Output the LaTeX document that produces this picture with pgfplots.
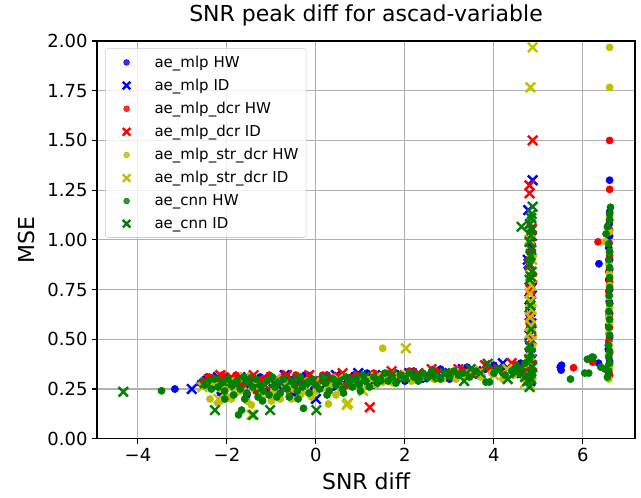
\documentclass[border=0pt]{standalone}
\usepackage{fontspec}
\setmainfont{DejaVu Sans}
\usepackage{pgfplots}
\pgfplotsset{compat=1.18}

\definecolor{cb}{rgb}{0,0,1}
\definecolor{cr}{rgb}{1,0,0}
\definecolor{cy}{rgb}{0.75,0.75,0}
\definecolor{cg}{rgb}{0,0.5,0}
\definecolor{gridgray}{RGB}{176,176,176}
\definecolor{legendedge}{RGB}{204,204,204}

\pgfplotsset{
  legmark/.style={legend image code/.code={
      \path (0cm,0cm) (1.03cm,0cm);
      \draw[##1, every mark/.append style={scale=0.8}] plot coordinates {(0.395cm,0cm)};}},
  hw/.style={only marks, mark=*, mark size=2.7pt, color=#1, legmark},
  id/.style={only marks, mark=x, mark size=5pt, line width=1.8pt, color=#1, legmark},
}

\begin{document}
\begin{tikzpicture}
\useasboundingbox (-72.75pt,-43.7pt) rectangle (408pt,329.05pt);
\begin{axis}[
    at={(0,0)}, anchor=south west,
    scale only axis,
    width=403.5pt, height=298.3pt,
    xmin=-4.92, xmax=7.17,
    ymin=0, ymax=2,
    xtick={-4,-2,0,2,4,6},
    xticklabels={−4,−2,0,2,4,6},
    ytick={0,0.25,0.5,0.75,1,1.25,1.5,1.75,2},
    yticklabels={0.00,0.25,0.50,0.75,1.00,1.25,1.50,1.75,2.00},
    tick label style={font=\fontsize{13.5}{16}\selectfont},
    tick pos=left,
    tick align=outside,
    major tick length=3.6pt,
    tick style={black, line width=0.8pt},
    axis line style={black, line width=0.8pt},
    grid=major,
    grid style={gridgray, line width=0.8pt},
    axis on top,
    title={SNR peak diff for ascad-variable},
    title style={at={(0.5,1)}, anchor=base, yshift=9pt, font=\fontsize{16.5}{19}\selectfont},
    xlabel={SNR diff},
    xlabel style={at={(axis description cs:0.5,0)}, anchor=base, yshift=-38pt, font=\fontsize{16.5}{19}\selectfont},
    ylabel={MSE},
    ylabel style={at={(axis description cs:-0.1165,0.5)}, anchor=base, font=\fontsize{16.5}{19}\selectfont},
    legend style={at={(0.015,0.982)}, anchor=north west, draw=legendedge, rounded corners=2pt,
      fill=white, fill opacity=0.8, text opacity=1, font=\fontsize{11.25}{13}\selectfont,
      row sep=3.3pt, inner xsep=3.8pt, inner ysep=3.5pt},
    legend cell align=left,
]

% ae_mlp HW
\addplot[hw=cb] coordinates {
(-3.17,0.25) (-2.6,0.28) (-2.45,0.31) (-2.3,0.27) (-2.15,0.23) (-2.0,0.31) (-1.85,0.26) (-1.7,0.3)
(-1.55,0.22) (-1.4,0.29) (-1.25,0.31) (-1.1,0.24) (-0.95,0.3) (-0.8,0.27) (-0.65,0.31) (-0.5,0.23)
(-0.35,0.29) (-0.2,0.32) (-0.05,0.25) (0.1,0.3) (0.25,0.32) (0.4,0.26) (0.55,0.31) (0.7,0.28)
(0.85,0.32) (1.0,0.29) (1.15,0.33) (1.3,0.27) (1.45,0.32) (1.6,0.3) (1.8,0.33) (2.0,0.29)
(2.2,0.34) (2.4,0.3) (2.6,0.33) (2.8,0.35) (3.0,0.3) (3.2,0.34) (3.4,0.36) (3.6,0.32)
(3.8,0.35) (4.0,0.37) (4.2,0.34) (4.4,0.36) (4.6,0.38) (5.49,0.36) (5.51,0.345) (5.52,0.37)
(6.35,0.38) (6.36,0.88)
(6.58,0.33) (6.6,0.39) (6.57,0.45) (6.6,0.51) (6.58,0.57) (6.6,0.63) (6.59,0.69) (6.6,0.75)
(6.58,0.8) (6.6,0.85) (6.6,0.90) (6.58,0.96) (6.6,1.02) (6.59,1.08) (6.6,1.14) (6.6,1.30)
(4.84,0.98) (4.82,1.0) (4.8,0.6) (4.84,0.75)
};
\addlegendentry{ae\_mlp HW}

% ae_mlp ID
\addplot[id=cb] coordinates {
(-2.79,0.25) (-2.45,0.29) (-2.2,0.31) (-1.95,0.26) (-1.7,0.31) (-1.45,0.28) (-1.2,0.3) (-0.95,0.25)
(-0.7,0.32) (-0.45,0.29) (-0.2,0.31) (0.0,0.2) (0.2,0.27) (0.45,0.32) (0.7,0.3) (0.95,0.33)
(1.2,0.29) (1.5,0.32) (1.8,0.31) (2.1,0.33) (2.4,0.31) (2.7,0.34) (3.0,0.33) (3.3,0.35)
(3.6,0.34) (3.9,0.36) (4.2,0.38) (4.45,0.33) (4.65,0.36)
(4.82,0.29) (4.8,0.34) (4.85,0.4) (4.82,0.46) (4.8,0.52) (4.84,0.58) (4.82,0.64) (4.8,0.7)
(4.85,0.76) (4.82,0.82) (4.78,0.88) (4.76,0.9) (4.83,0.96) (4.85,1.02) (4.81,1.08) (4.77,1.15)
(4.87,1.30)
};
\addlegendentry{ae\_mlp ID}

% ae_mlp_dcr HW
\addplot[hw=cr] coordinates {
(-2.55,0.29) (-2.4,0.31) (-2.25,0.3) (-2.1,0.32) (-1.95,0.28) (-1.8,0.32) (-1.65,0.27) (-1.5,0.31)
(-1.35,0.24) (-1.2,0.3) (-1.05,0.32) (-0.9,0.27) (-0.75,0.31) (-0.6,0.24) (-0.45,0.32) (-0.3,0.29)
(-0.15,0.31) (0.0,0.26) (0.15,0.32) (0.3,0.29) (0.5,0.31) (0.7,0.27) (0.9,0.32) (1.1,0.3)
(1.3,0.33) (1.5,0.29) (1.7,0.33) (1.9,0.31) (2.1,0.34) (2.4,0.32) (2.7,0.34) (3.0,0.32)
(3.3,0.34) (3.6,0.33) (3.9,0.35) (4.2,0.33) (4.5,0.37) (4.7,0.35) (5.79,0.357) (6.22,0.385)
(6.34,0.99)
(6.6,0.32) (6.58,0.37) (6.6,0.43) (6.58,0.49) (6.6,0.56) (6.59,0.62) (6.6,0.68) (6.58,0.74)
(6.6,0.79) (6.58,0.84) (6.6,0.92) (6.59,0.985) (6.6,1.05) (6.6,1.1) (6.6,1.254) (6.6,1.50)
};
\addlegendentry{ae\_mlp\_dcr HW}

% ae_mlp_dcr ID
\addplot[id=cr] coordinates {
(-2.4,0.3) (-2.15,0.32) (-1.9,0.31) (-1.65,0.29) (-1.4,0.32) (-1.15,0.27) (-0.9,0.3) (-0.65,0.32)
(-0.4,0.27) (-0.15,0.32) (0.1,0.29) (0.35,0.31) (0.6,0.33) (0.85,0.3) (1.21,0.158) (1.4,0.31)
(1.7,0.34) (2.0,0.32) (2.3,0.33) (2.6,0.35) (2.9,0.32) (3.2,0.35) (3.5,0.33) (3.8,0.37)
(4.1,0.35) (4.4,0.38) (4.6,0.34)
(4.82,0.31) (4.85,0.37) (4.8,0.43) (4.84,0.5) (4.82,0.56) (4.8,0.62) (4.84,0.69) (4.82,0.75)
(4.86,0.81) (4.8,0.87) (4.83,0.93) (4.82,1.0) (4.85,1.06) (4.8,1.234) (4.8,1.274) (4.87,1.50)
};
\addlegendentry{ae\_mlp\_dcr ID}

% ae_mlp_str_dcr HW
\addplot[hw=cy] coordinates {
(-2.38,0.20) (-2.3,0.28) (-2.15,0.25) (-2.0,0.21) (-1.85,0.29) (-1.7,0.24) (-1.55,0.19) (-1.4,0.27)
(-1.25,0.22) (-1.1,0.29) (-0.95,0.24) (-0.8,0.2) (-0.65,0.28) (-0.5,0.25) (-0.35,0.22) (-0.2,0.29)
(0.0,0.24) (0.28,0.175) (0.35,0.27) (0.55,0.25) (0.75,0.29) (0.95,0.26) (1.15,0.3) (1.35,0.27)
(1.50,0.455) (1.55,0.31) (1.75,0.28) (1.95,0.31) (2.15,0.29) (2.4,0.31) (2.65,0.3) (2.9,0.32)
(3.15,0.3) (3.4,0.33) (3.7,0.31) (3.95,0.33) (4.2,0.3) (4.45,0.32) (4.68,0.3) (4.85,0.34)
(-2.2,0.18) (-1.9,0.2) (-1.45,0.17) (-1.0,0.19) (-0.55,0.2) (-0.1,0.21) (0.45,0.22)
(6.58,0.3) (6.6,0.36) (6.57,0.42) (6.6,0.47) (6.58,0.53) (6.6,0.58) (6.58,0.61) (6.6,0.66)
(6.58,0.714) (6.6,0.77) (6.59,0.83) (6.58,0.88) (6.6,0.94) (6.5,0.99) (6.6,1.04) (6.6,1.12)
(6.6,1.767) (6.6,1.968)
};
\addlegendentry{ae\_mlp\_str\_dcr HW}

% ae_mlp_str_dcr ID
\addplot[id=cy] coordinates {
(-2.55,0.26) (-2.19,0.20) (-2.05,0.27) (-1.85,0.24) (-1.6,0.31) (-1.45,0.12) (-1.35,0.26) (-1.1,0.22)
(-0.9,0.3) (-0.7,0.25) (-0.5,0.28) (-0.25,0.23) (0.0,0.29) (0.25,0.26) (0.5,0.3) (0.69,0.17)
(0.72,0.18) (0.9,0.28) (1.06,0.24) (1.18,0.28) (1.35,0.31) (1.6,0.29) (1.85,0.32) (2.02,0.455)
(2.2,0.3) (2.5,0.32) (2.8,0.31) (3.1,0.33) (3.4,0.32) (3.7,0.34) (4.0,0.32) (4.3,0.35)
(4.55,0.33) (4.7,0.28)
(4.82,0.27) (4.84,0.32) (4.8,0.38) (4.82,0.44) (4.85,0.49) (4.8,0.53) (4.83,0.57) (4.81,0.61)
(4.85,0.65) (4.82,0.69) (4.8,0.73) (4.84,0.77) (4.82,0.82) (4.86,0.9) (4.8,1.0) (4.82,1.767)
(4.87,1.968)
};
\addlegendentry{ae\_mlp\_str\_dcr ID}

% ae_cnn HW
\addplot[hw=cg] coordinates {
(-3.47,0.241) (-2.5,0.27) (-2.42,0.29) (-2.35,0.25) (-2.28,0.3) (-2.2,0.26) (-2.12,0.28) (-2.05,0.24)
(-1.98,0.3) (-1.9,0.27) (-1.85,0.22) (-1.78,0.29) (-1.74,0.12) (-1.67,0.144) (-1.7,0.25) (-1.62,0.31)
(-1.55,0.23) (-1.5,0.28) (-1.42,0.26) (-1.35,0.3) (-1.3,0.21) (-1.25,0.27) (-1.18,0.24) (-1.1,0.29)
(-1.05,0.22) (-0.98,0.31) (-0.92,0.26) (-0.85,0.28) (-0.8,0.23) (-0.72,0.3) (-0.65,0.25) (-0.6,0.21)
(-0.55,0.29) (-0.48,0.27) (-0.42,0.24) (-0.35,0.31) (-0.28,0.153) (-0.3,0.26) (-0.22,0.28) (-0.15,0.23)
(-0.08,0.3) (0,0.27) (0.08,0.25) (0.15,0.31) (0.22,0.28) (0.3,0.24) (0.38,0.3) (0.45,0.27)
(0.52,0.29) (0.6,0.25) (0.68,0.31) (0.75,0.28) (0.82,0.26) (0.9,0.3) (0.98,0.27) (1.05,0.32)
(1.12,0.29) (1.2,0.26) (1.3,0.31) (1.38,0.28) (1.45,0.3) (1.55,0.33) (1.62,0.29) (1.7,0.31)
(1.8,0.28) (1.9,0.32) (2.0,0.3) (2.1,0.33) (2.2,0.31) (2.3,0.29) (2.4,0.33) (2.5,0.31)
(2.6,0.34) (2.7,0.32) (2.8,0.3) (2.9,0.33) (3.0,0.31) (3.1,0.34) (3.2,0.32) (3.3,0.33)
(3.45,0.31) (3.6,0.34) (3.82,0.285) (3.9,0.285) (4.0,0.33) (4.1,0.35) (4.25,0.32) (4.4,0.34)
(4.5,0.36) (4.6,0.33) (4.7,0.38) (4.75,0.31)
(-2.05,0.2) (-1.6,0.2) (-1.2,0.19) (-0.88,0.21) (-0.4,0.2) (0.25,0.22) (0.62,0.23) (1.0,0.24)
(4.8,0.4) (4.83,0.45) (4.85,0.33) (4.8,0.3) (4.84,0.9) (4.82,1.04)
(5.72,0.30) (6.04,0.33) (6.10,0.40) (6.13,0.33) (6.2,0.41) (6.23,0.41) (6.4,0.36) (6.5,0.35)
(6.55,0.31) (6.58,0.34) (6.6,0.38) (6.58,0.41) (6.6,0.44) (6.57,0.47) (6.6,0.52) (6.58,0.56)
(6.6,0.6) (6.58,0.64) (6.6,0.68) (6.59,0.72) (6.6,0.76) (6.6,0.81) (6.6,0.86) (6.58,0.9)
(6.6,0.94) (6.58,0.98) (6.52,1.03) (6.55,1.066) (6.6,1.1) (6.6,1.13) (6.62,1.164)
};
\addlegendentry{ae\_cnn HW}

% ae_cnn ID
\addplot[id=cg] coordinates {
(-4.33,0.236) (-2.27,0.144) (-1.41,0.12) (-1.03,0.144) (0.01,0.144) (-2.5,0.28) (-2.1,0.29) (-1.8,0.27)
(-1.55,0.3) (-1.25,0.25) (-0.95,0.28) (-0.7,0.26) (-0.4,0.3) (-0.1,0.28) (0.2,0.3) (0.5,0.29)
(0.8,0.3) (1.1,0.31) (1.4,0.3) (1.7,0.32) (2.0,0.31) (2.3,0.32) (2.6,0.31) (2.9,0.33)
(3.33,0.29) (3.48,0.35) (3.7,0.33) (3.86,0.377) (4.1,0.34) (4.31,0.30) (4.5,0.33) (4.6,0.36)
(4.70,0.31) (4.75,0.29)
(4.8,0.26) (4.84,0.3) (4.82,0.33) (4.86,0.36) (4.79,0.4) (4.83,0.43) (4.8,0.47) (4.84,0.55)
(4.82,0.67) (4.8,0.8) (4.83,0.815) (4.85,0.84) (4.8,0.88) (4.82,0.92) (4.84,0.95) (4.8,0.99)
(4.83,1.02) (4.85,1.05) (4.81,1.08) (4.84,1.11) (4.85,1.13) (4.62,1.066) (4.87,1.167)
};
\addlegendentry{ae\_cnn ID}

\end{axis}
\end{tikzpicture}
\end{document}
